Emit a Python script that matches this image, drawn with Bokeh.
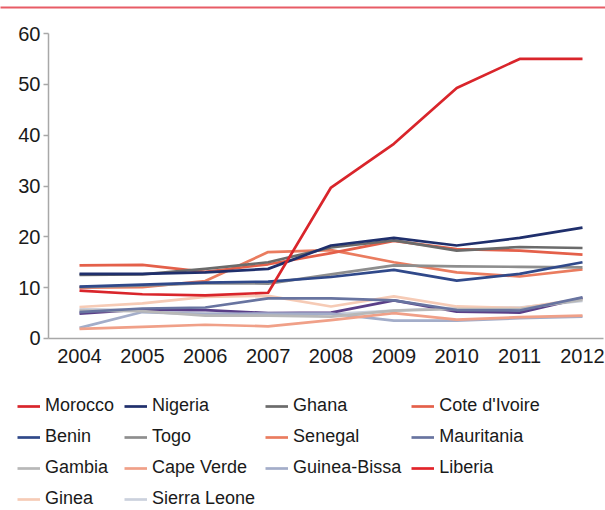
from bokeh.plotting import figure
from bokeh.models import Range1d, Legend, LegendItem, FixedTicker, LinearAxis
from bokeh.embed import file_html
from bokeh.resources import INLINE

years = [2004, 2005, 2006, 2007, 2008, 2009, 2010, 2011, 2012]
countries = ["Morocco", "Nigeria", "Ghana", "Cote d'Ivoire", "Benin", "Togo", "Senegal",
             "Mauritania", "Gambia", "Cape Verde", "Guinea-Bissa", "Liberia", "Ginea", "Sierra Leone"]

morocco      = [9.4, 8.7, 8.5, 9.0, 29.7, 38.3, 49.3, 55.0, 55.0]
nigeria      = [12.7, 12.7, 13.0, 13.7, 18.3, 19.8, 18.3, 19.8, 21.8]
ghana        = [12.5, 12.6, 13.7, 15.0, 17.9, 19.3, 17.3, 18.0, 17.8]
cote_divoire = [14.4, 14.5, 13.1, 14.6, 16.8, 19.2, 17.6, 17.3, 16.5]
benin        = [10.2, 10.6, 11.0, 11.2, 12.1, 13.5, 11.4, 12.7, 15.0]
togo         = [10.1, 10.4, 10.9, 10.8, 12.6, 14.4, 14.2, 14.1, 14.0]
senegal      = [10.0, 10.1, 11.3, 17.0, 17.4, 15.0, 13.0, 12.2, 13.6]
mauritania   = [5.2, 5.9, 6.1, 7.9, 7.9, 7.5, 5.6, 5.5, 8.1]
gambia       = [5.5, 5.4, 4.5, 4.5, 4.3, 5.5, 5.8, 5.8, 7.6]
cape_verde   = [1.9, 2.3, 2.7, 2.4, 3.6, 5.0, 3.7, 4.2, 4.5]
guinea_bissa = [2.1, 5.2, 4.8, 4.9, 4.9, 3.5, 3.5, 4.0, 4.3]
liberia      = [4.9, 5.7, 5.6, 5.0, 5.1, 7.5, 5.3, 5.1, 8.0]
ginea        = [6.2, 6.9, 8.2, 8.4, 6.3, 8.3, 6.3, 6.0, 7.8]
sierra_leone = [5.8, 5.6, 5.0, 5.0, 4.8, 5.5, 6.1, 6.1, 7.4]

series = [morocco, nigeria, ghana, cote_divoire, benin, togo, senegal, mauritania,
          gambia, cape_verde, guinea_bissa, liberia, ginea, sierra_leone]

legend_colors = ["#d9252b", "#1f2f6c", "#6b6b6b", "#e4604a", "#30498a", "#8e8e8e", "#ea7c5f",
                 "#6874a0", "#b8b8b8", "#f0a088", "#a3adc9", "#e2242a", "#f6cbb6", "#cbd1dd"]
line_colors = list(legend_colors)
line_colors[11] = "#5a3f88"

yticks = [0, 10, 20, 30, 40, 50, 60]

FONT = "Liberation Sans"

# frame covers the whole canvas below the top rule; axes are placed at fixed locations
X0, X1 = 2002.7435, 2012.3658
Y0, Y1 = -33.84, 65.12
AXIS_X = 2003.507

p = figure(width=605, height=510, output_backend="svg", toolbar_location=None,
           x_range=Range1d(X0, X1), y_range=Range1d(Y0, Y1),
           x_axis_location=None, y_axis_location=None,
           min_border_left=0, min_border_right=0, min_border_top=7, min_border_bottom=0)
p.outline_line_color = None
p.background_fill_color = "white"
p.border_fill_color = "white"
p.grid.visible = False

renderers = {}
for i in reversed(range(len(countries))):
    r = p.line(years, series[i], line_color=line_colors[i], line_width=2.7, line_join="round")
    renderers[i] = r

items = []
for i, c in enumerate(countries):
    if line_colors[i] != legend_colors[i]:
        proxy = p.line([float("nan")], [float("nan")], line_color=legend_colors[i], line_width=2.7)
        items.append(LegendItem(label=c, renderers=[proxy]))
    else:
        items.append(LegendItem(label=c, renderers=[renderers[i]]))

axis_col = "#a8a8a8"

yaxis = LinearAxis(fixed_location=AXIS_X, bounds=(0, 60), ticker=FixedTicker(ticks=yticks),
                   axis_line_color=axis_col, axis_line_width=1.5,
                   major_tick_line_color=axis_col, major_tick_line_width=1.5,
                   major_tick_out=5, major_tick_in=0, minor_tick_line_color=None,
                   major_label_standoff=3, major_label_text_font=FONT,
                   major_label_text_font_size="20px", major_label_text_color="#1a1a1a")
p.add_layout(yaxis, "left")

xaxis = LinearAxis(fixed_location=0, bounds=(AXIS_X, X1 - 0.03), ticker=FixedTicker(ticks=years),
                   axis_line_color=axis_col, axis_line_width=1.5,
                   major_tick_line_color=None, major_tick_out=0, major_tick_in=0,
                   minor_tick_line_color=None,
                   major_label_standoff=11, major_label_text_font=FONT,
                   major_label_text_font_size="20px", major_label_text_color="#1a1a1a")
p.add_layout(xaxis, "below")

top_rule = LinearAxis(ticker=FixedTicker(ticks=[]), axis_line_color="#e85c66", axis_line_width=2,
                      major_tick_line_color=None, minor_tick_line_color=None,
                      major_label_text_font_size="0px")
p.add_layout(top_rule, "above")

legend = Legend(items=items, ncols=4, orientation="horizontal", location=(17, 1),
                label_text_font=FONT, label_text_font_size="18px", label_text_color="#1a1a1a",
                glyph_width=23, glyph_height=20, label_height=20, label_standoff=5,
                spacing=10, padding=0, margin=0, border_line_color=None,
                background_fill_alpha=0)
p.add_layout(legend, "center")

html = file_html(p, INLINE)
html = html.replace("<head>", "<head><style>html,body{margin:0;padding:0;overflow:hidden}</style>", 1)
open("out.html", "w").write(html)
